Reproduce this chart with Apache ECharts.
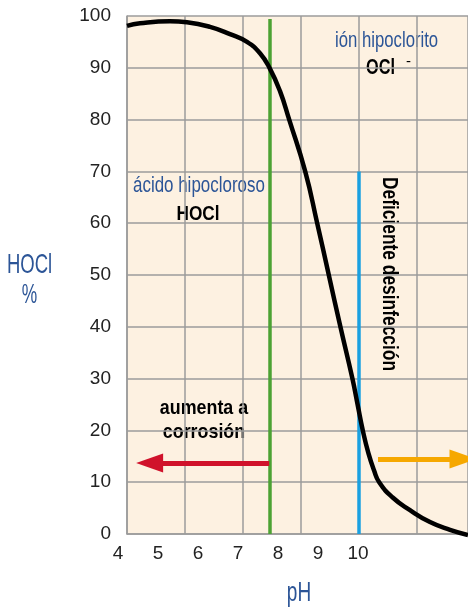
<!DOCTYPE html>
<html>
<head>
<meta charset="utf-8">
<script src="https://cdn.jsdelivr.net/npm/echarts@6/dist/echarts.min.js"></script>
<style>
  html, body { margin: 0; padding: 0; background: #fff; }
  #chart { width: 468px; height: 608px; }
</style>
</head>
<body>
<div id="chart"></div>
<script>
// eje pH (etiquetas) y curva HOCl %
const phLabels = [4, 5, 6, 7, 8, 9, 10]
const curvePH = [4.225, 4.55, 5.3, 5.725, 6.3, 6.8, 7.225, 7.55, 7.8, 8.05, 8.28, 8.68, 8.98, 9.27, 9.56, 9.86, 9.99, 10.12, 10.26, 10.4, 10.53, 10.86, 11.3, 11.8, 12.3, 12.75]
const curveHOCl = [98.1, 98.6, 99.0, 98.8, 97.9, 96.5, 95.0, 92.8, 89.8, 85.5, 80.0, 70.0, 60.0, 50.0, 40.0, 30.0, 25.0, 20.0, 15.6, 12.3, 10.0, 7.1, 4.6, 2.3, 0.8, -0.2]
const greenPH = 7.8      // linea verde
const bluePH = 10.03     // linea azul
const blueTop = 70
const redArrow = [[7.78, 13.7], [4.79, 13.7]]
const orangeArrow = [[10.5, 14.5], [12.625, 14.5]]

const font = '"Liberation Sans", Arial, sans-serif'
const gridColor = '#9b9b9b'
const blueText = '#2c5597'

let chart = echarts.init(document.getElementById('chart'), null, {renderer: 'canvas'})

// texto estrecho (la fuente original es condensada)
function label(text, x, y, size, opts) {
    opts = opts || {}
    return {
        type: 'text', x: x, y: y, scaleX: opts.scale || 0.78, rotation: opts.rotation || 0,
        style: {
            text: text, fill: opts.color || '#000', fontSize: size, fontFamily: font,
            fontWeight: opts.bold ? 'bold' : 'normal', align: opts.align || 'left',
            verticalAlign: 'middle'
        }
    }
}

let option = {
    animation: false,
    backgroundColor: '#fff',
    grid: [
        {left: 127, right: 0, top: 16, bottom: 74, show: true, backgroundColor: '#fdf1e1', borderWidth: 0},
        {left: 118, right: 0, top: 16, bottom: 74}
    ],
    xAxis: [
        {
            type: 'value', gridIndex: 0, min: 0, max: 341 / 58, interval: 1,
            axisLine: {show: true, lineStyle: {color: gridColor, width: 1.5}},
            axisTick: {show: false}, axisLabel: {show: false},
            splitLine: {show: true, lineStyle: {color: gridColor, width: 1.5}}
        },
        {
            type: 'value', gridIndex: 1, min: 4, max: 12.75, interval: 1,
            axisLine: {show: false}, axisTick: {show: false}, splitLine: {show: false},
            axisLabel: {
                show: true, margin: 10, color: '#222', fontSize: 19, fontFamily: font,
                showMaxLabel: false,
                formatter: v => phLabels.indexOf(v) >= 0 ? String(v) : ''
            }
        }
    ],
    yAxis: [
        {
            type: 'value', gridIndex: 0, min: 0, max: 100, interval: 10,
            axisLine: {show: true, lineStyle: {color: gridColor, width: 1.5}},
            axisTick: {show: false},
            axisLabel: {margin: 16, color: '#222', fontSize: 19, fontFamily: font},
            splitLine: {show: true, lineStyle: {color: gridColor, width: 1.5}}
        },
        {type: 'value', gridIndex: 1, min: 0, max: 100, show: false}
    ],
    series: [
        {
            type: 'line', xAxisIndex: 1, yAxisIndex: 1,
            data: curvePH.map((x, i) => [x, curveHOCl[i]]),
            smooth: 0.5, showSymbol: false, clip: false, z: 5,
            lineStyle: {color: '#000', width: 4.5},
            markLine: {
                silent: true, symbol: 'none', label: {show: false},
                data: [
                    [{coord: [greenPH, 0], lineStyle: {color: '#4ca233', width: 3.5, type: 'solid'}}, {coord: [greenPH, 99.4]}],
                    [{coord: [bluePH, 0], lineStyle: {color: '#1aa0e0', width: 3.5, type: 'solid'}}, {coord: [bluePH, blueTop]}]
                ]
            }
        },
        {
            type: 'line', xAxisIndex: 1, yAxisIndex: 1, data: [], clip: false,
            markLine: {
                silent: true, label: {show: false},
                symbol: ['none', 'triangle'], symbolSize: [19, 27],
                data: [
                    [{coord: redArrow[0], lineStyle: {color: '#d0122b', width: 5, type: 'solid'}, symbol: 'none'},
                     {coord: redArrow[1], symbol: 'triangle', itemStyle: {color: '#d0122b'}}],
                    [{coord: orangeArrow[0], lineStyle: {color: '#f6a800', width: 5, type: 'solid'}, symbol: 'none'},
                     {coord: orangeArrow[1], symbol: 'triangle', itemStyle: {color: '#f6a800'}}]
                ]
            }
        }
    ],
    graphic: [
        label('ión hipoclorito', 335, 41, 22, {color: blueText, scale: 0.76}),
        label('OCl', 366, 67.5, 22, {bold: true, scale: 0.74}),
        label('-', 406, 62, 15, {scale: 1}),
        label('ácido hipocloroso', 133, 185.5, 22, {color: blueText, scale: 0.77}),
        label('HOCl', 198, 214.5, 21, {bold: true, align: 'center', scale: 0.82}),
        label('Deficiente desinfección', 389, 274, 22, {bold: true, align: 'center', scale: 0.79, rotation: -Math.PI / 2}),
        label('aumenta a', 204, 408.5, 21, {bold: true, align: 'center', scale: 0.85}),
        label('corrosión', 204, 432.5, 21, {bold: true, align: 'center', scale: 0.85}),
        label('pH', 299, 593, 28, {color: blueText, align: 'center', scale: 0.68}),
        label('HOCl', 29.5, 265, 28, {color: blueText, align: 'center', scale: 0.66}),
        label('%', 29.5, 295, 28, {color: blueText, align: 'center', scale: 0.62})
    ]
}

chart.setOption(option)
</script>
</body>
</html>
